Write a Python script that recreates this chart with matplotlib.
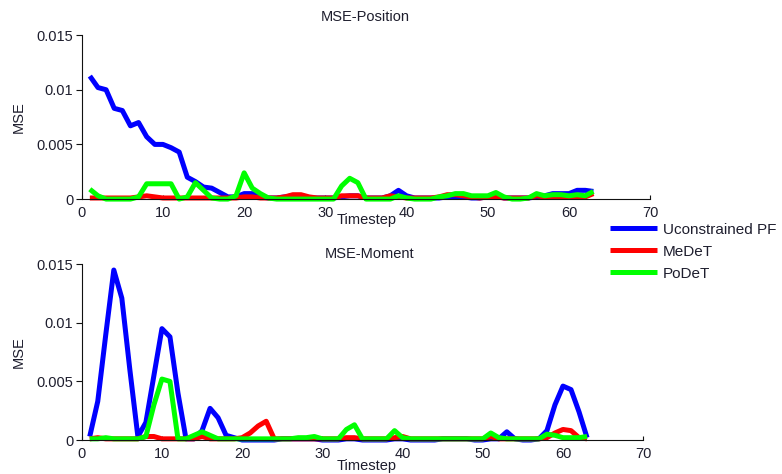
import numpy as np
import matplotlib
matplotlib.use("Agg")
from matplotlib import pyplot as plt

# Données
timestep = np.arange(1, 64)

pos_upf = [0.01125, 0.0102, 0.0100, 0.0083, 0.0081, 0.0067, 0.0070, 0.0057, 0.0050, 0.0050,
           0.0047, 0.0043, 0.0020, 0.0016, 0.0011, 0.0010, 0.0006, 0.0002, 0.0002, 0.0005,
           0.0005, 0.0002, 0.0001, 0.0001, 0.0002, 0.0003, 0.0003, 0.0001, 0.0001, 0.0001,
           0.0001, 0.0002, 0.0003, 0.0003, 0.0001, 0.0001, 0.0001, 0.0003, 0.0008, 0.0003,
           0.0001, 0.0001, 0.0001, 0.0001, 0.0002, 0.0002, 0.0002, 0.0001, 0.0001, 0.0002,
           0.0003, 0.0001, 0.0001, 0.0001, 0.0001, 0.0002, 0.0003, 0.0005, 0.0005, 0.0005,
           0.0008, 0.0008, 0.0007]
pos_medet = [0.0001, 0.0001, 0.0001, 0.0001, 0.0001, 0.0001, 0.0002, 0.0003, 0.0002, 0.0001,
             0.0001, 0.0001, 0.0001, 0.0001, 0.0001, 0.0001, 0.0001, 0.0001, 0.0001, 0.0002,
             0.0002, 0.0001, 0.0001, 0.0001, 0.0002, 0.0004, 0.0004, 0.0002, 0.0001, 0.0001,
             0.0001, 0.0003, 0.0003, 0.0003, 0.0001, 0.0001, 0.0001, 0.0003, 0.0002, 0.0001,
             0.0001, 0.0001, 0.0001, 0.0002, 0.0004, 0.0004, 0.0003, 0.0002, 0.0001, 0.0002,
             0.0002, 0.0001, 0.0001, 0.0001, 0.0001, 0.0003, 0.0002, 0.0002, 0.0002, 0.0002,
             0.0002, 0.0002, 0.0005]
pos_podet = [0.0009, 0.0003, 0.0000, 0.0000, 0.0000, 0.0000, 0.0002, 0.0014, 0.0014, 0.0014,
             0.0014, 0.0000, 0.0002, 0.0015, 0.0008, 0.0001, 0.0000, 0.0000, 0.0003, 0.0024,
             0.0010, 0.0005, 0.0001, 0.0000, 0.0000, 0.0000, 0.0000, 0.0000, 0.0000, 0.0000,
             0.0000, 0.0012, 0.0019, 0.0015, 0.0000, 0.0000, 0.0000, 0.0000, 0.0003, 0.0001,
             0.0000, 0.0000, 0.0000, 0.0002, 0.0003, 0.0005, 0.0005, 0.0003, 0.0003, 0.0003,
             0.0006, 0.0002, 0.0000, 0.0000, 0.0001, 0.0005, 0.0003, 0.0004, 0.0004, 0.0003,
             0.0004, 0.0003, 0.0007]

mom_upf = [0.0003, 0.0033, 0.0090, 0.0145, 0.0121, 0.0060, 0.0003, 0.0015, 0.0055, 0.0095,
           0.0088, 0.0040, 0.0001, 0.0001, 0.0008, 0.0027, 0.0019, 0.0004, 0.0002, 0.0000,
           0.0000, 0.0000, 0.0000, 0.0000, 0.0001, 0.0001, 0.0001, 0.0001, 0.0001, 0.0000,
           0.0000, 0.0000, 0.0001, 0.0001, 0.0000, 0.0000, 0.0000, 0.0000, 0.0001, 0.0001,
           0.0000, 0.0000, 0.0000, 0.0000, 0.0001, 0.0001, 0.0001, 0.0001, 0.0000, 0.0000,
           0.0001, 0.0001, 0.0007, 0.0001, 0.0000, 0.0000, 0.0001, 0.0008, 0.0030, 0.0046,
           0.0043, 0.0024, 0.0002]
mom_medet = [0.0001, 0.0002, 0.0001, 0.0001, 0.0001, 0.0001, 0.0001, 0.0003, 0.0003, 0.0001,
             0.0001, 0.0001, 0.0001, 0.0001, 0.0003, 0.0001, 0.0001, 0.0001, 0.0001, 0.0002,
             0.0006, 0.0012, 0.0016, 0.0001, 0.0001, 0.0001, 0.0001, 0.0001, 0.0001, 0.0001,
             0.0001, 0.0001, 0.0002, 0.0002, 0.0001, 0.0001, 0.0001, 0.0001, 0.0002, 0.0003,
             0.0001, 0.0001, 0.0001, 0.0001, 0.0001, 0.0001, 0.0001, 0.0001, 0.0001, 0.0001,
             0.0003, 0.0001, 0.0001, 0.0001, 0.0001, 0.0001, 0.0001, 0.0002, 0.0006, 0.0009,
             0.0008, 0.0002, 0.0001]
mom_podet = [0.0001, 0.0001, 0.0002, 0.0001, 0.0001, 0.0001, 0.0001, 0.0003, 0.0030, 0.0052,
             0.0050, 0.0001, 0.0001, 0.0004, 0.0007, 0.0004, 0.0001, 0.0001, 0.0001, 0.0001,
             0.0001, 0.0001, 0.0001, 0.0001, 0.0001, 0.0001, 0.0002, 0.0002, 0.0003, 0.0001,
             0.0001, 0.0001, 0.0009, 0.0013, 0.0001, 0.0001, 0.0001, 0.0001, 0.0008, 0.0002,
             0.0001, 0.0001, 0.0001, 0.0001, 0.0001, 0.0001, 0.0001, 0.0001, 0.0001, 0.0001,
             0.0006, 0.0002, 0.0001, 0.0001, 0.0001, 0.0001, 0.0001, 0.0005, 0.0004, 0.0002,
             0.0002, 0.0002, 0.0003]

labels = ['Uconstrained PF', 'MeDeT', 'PoDeT']
colors = ['#0000FF', '#FF0000', '#00FF00']
xticks = [0, 10, 20, 30, 40, 50, 60, 70]
yticks = [0, 0.005, 0.01, 0.015]
ytick_labels = ['0', '0.005', '0.01', '0.015']

TXT = '#1e1e2e'
plt.rcParams['font.family'] = ['Liberation Sans', 'DejaVu Sans']
plt.rcParams['font.size'] = 9.5

fig = plt.figure(figsize=(7.82, 4.74), dpi=100)
ax1 = fig.add_axes([0.1045, 0.580, 0.727, 0.346])
ax2 = fig.add_axes([0.1045, 0.0717, 0.718, 0.371])


def style_axes(ax, title, title_x, title_y, xl_x, xl_y):
    ax.set_xlim(0, 70)
    ax.set_ylim(0, 0.015)
    ax.set_xticks(xticks)
    ax.set_yticks(yticks)
    ax.set_yticklabels(ytick_labels)
    ax.spines['top'].set_visible(False)
    ax.spines['right'].set_visible(False)
    for sp in ['left', 'bottom']:
        ax.spines[sp].set_linewidth(0.8)
        ax.spines[sp].set_color('#111111')
    ax.tick_params(axis='x', direction='in', length=3, colors='#111111',
                   labelcolor=TXT, labelsize=10.5, pad=5)
    ax.tick_params(axis='y', direction='out', length=4, colors='#111111',
                   labelcolor=TXT, labelsize=10.5, pad=2)
    ax.set_ylabel('MSE', color=TXT, fontsize=10.5, labelpad=8)
    fig.text(title_x, title_y, title, ha='center', va='center', color=TXT, fontsize=10.5)
    fig.text(xl_x, xl_y, 'Timestep', ha='center', va='center', color=TXT, fontsize=10.5)


lw = 3.6
for y, c, l in zip([pos_upf, pos_medet, pos_podet], colors, labels):
    ax1.plot(timestep, y, color=c, linewidth=lw, label=l, solid_capstyle='butt', clip_on=False)
for y, c, l in zip([mom_upf, mom_medet, mom_podet], colors, labels):
    ax2.plot(timestep, y, color=c, linewidth=lw, label=l, solid_capstyle='butt', clip_on=False)

style_axes(ax1, 'MSE-Position', 365 / 782, 1 - 17 / 474, 367 / 782, 1 - 220 / 474)
style_axes(ax2, 'MSE-Moment', 370 / 782, 1 - 254 / 474, 367 / 782, 1 - 466 / 474)

handles, leg_labels = ax1.get_legend_handles_labels()
fig.legend(handles, leg_labels, loc='upper left', bbox_to_anchor=(596 / 782, 1 - 209 / 474),
           frameon=False, handlelength=3.1, handletextpad=0.4, labelspacing=0.52,
           fontsize=11, labelcolor=TXT)

fig.savefig('out.png', dpi=100)
